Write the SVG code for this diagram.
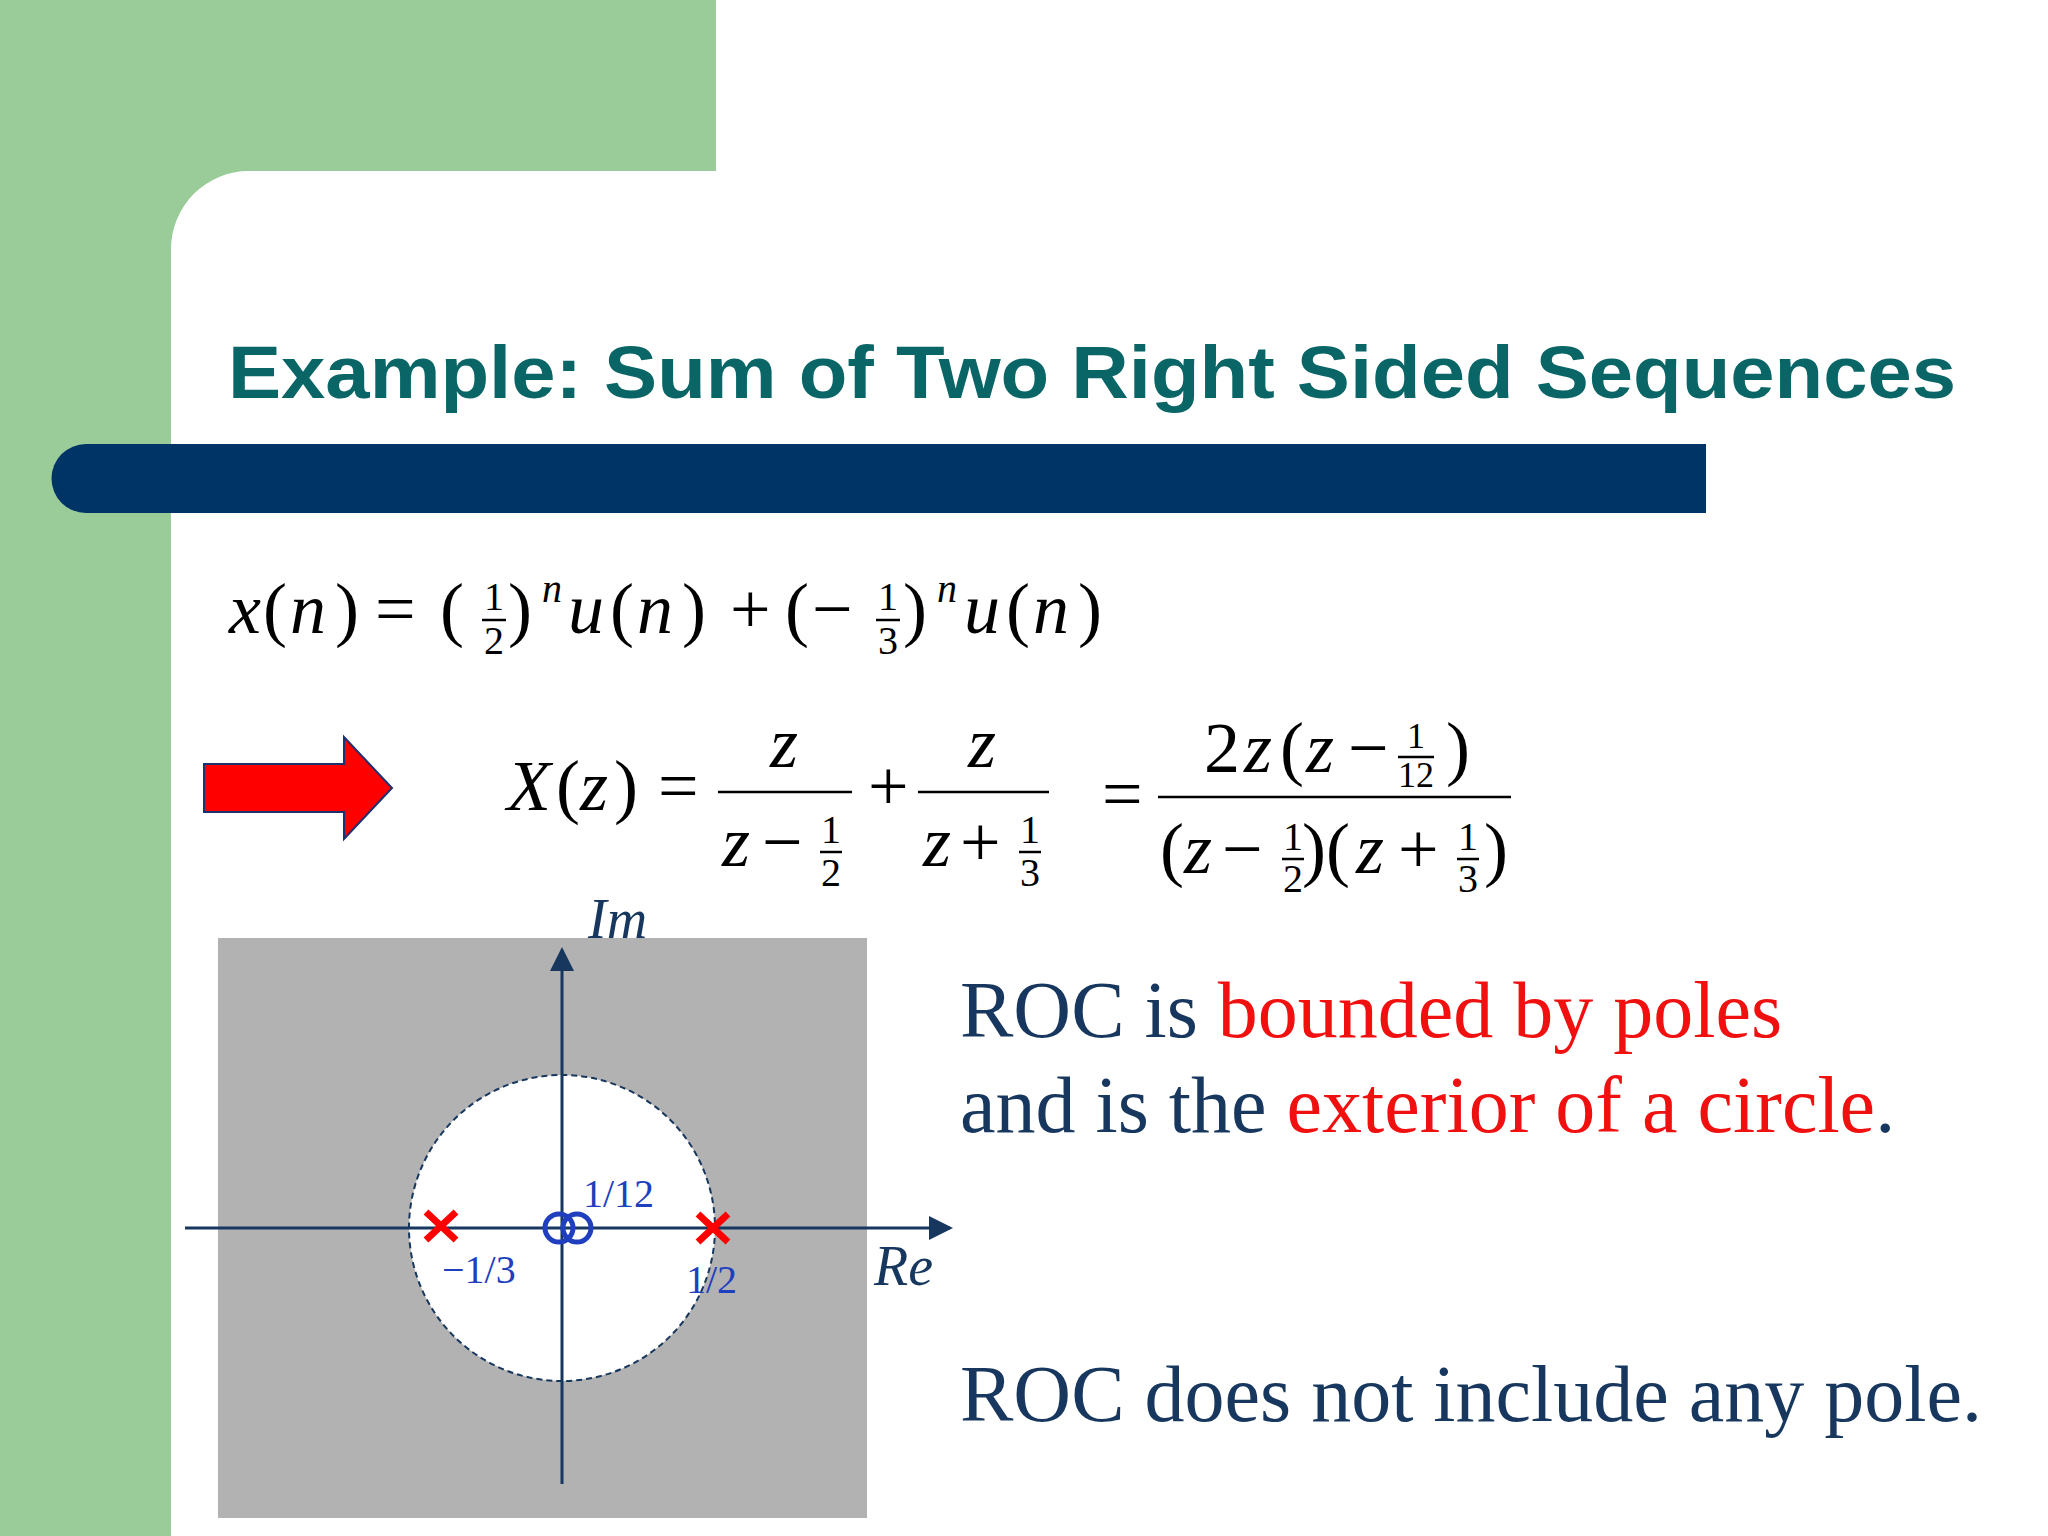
<svg xmlns="http://www.w3.org/2000/svg" width="2048" height="1536" viewBox="0 0 2048 1536">
<style>
.m{font-family:"Liberation Serif",serif;font-size:72px;fill:#000}
.i{font-style:italic}
.s{font-family:"Liberation Serif",serif;font-size:40px;fill:#000;text-anchor:middle}
.fb{stroke:#000;stroke-width:2.5}
.t{font-family:"Liberation Serif",serif;font-size:80px;fill:#17375e}
.r{fill:#f01010}
.lb{font-family:"Liberation Serif",serif;font-size:40px;fill:#1f3fbf}
.ax{stroke:#17375e;stroke-width:3;fill:none}
</style>
<defs>
<marker id="ah" markerWidth="8" markerHeight="8" refX="7" refY="4" orient="auto" markerUnits="strokeWidth"><path d="M0,0 L8,4 L0,8 z" fill="#17375e"/></marker>
</defs>
<rect width="2048" height="1536" fill="#ffffff"/>
<g id="background">
<rect x="0" y="0" width="716" height="171" fill="#99cc99"/>
<rect x="0" y="0" width="171" height="1536" fill="#99cc99"/>
<path d="M171,171 L249,171 A78,78 0 0 0 171,249 Z" fill="#99cc99"/>
<path d="M86,444 L1706,444 L1706,513 L86,513 A34.5,34.5 0 0 1 86,444 Z" fill="#003366"/>
</g>
<g id="title"><text x="228" y="398" font-family="Liberation Sans,Arial,sans-serif" font-weight="bold" font-size="74" fill="#0a6666" textLength="1728" lengthAdjust="spacingAndGlyphs">Example: Sum of Two Right Sided Sequences</text></g>
<g id="eq1">
<text class="m" y="633"><tspan class="i" x="229">x</tspan><tspan x="263">(</tspan><tspan class="i" x="290">n</tspan><tspan x="335">)</tspan><tspan x="375">=</tspan><tspan x="440">(</tspan><tspan x="508">)</tspan></text>
<text class="s" x="494" y="610">1</text><line class="fb" x1="482" y1="620" x2="506" y2="620"/><text class="s" x="494" y="654">2</text>
<text class="m i" x="542" y="602" style="font-size:40px">n</text>
<text class="m" y="633"><tspan class="i" x="568">u</tspan><tspan x="610">(</tspan><tspan class="i" x="637">n</tspan><tspan x="682">)</tspan><tspan x="730">+</tspan><tspan x="785">(</tspan><tspan x="812">−</tspan><tspan x="903">)</tspan></text>
<text class="s" x="888" y="610">1</text><line class="fb" x1="876" y1="620" x2="900" y2="620"/><text class="s" x="888" y="654">3</text>
<text class="m i" x="937" y="602" style="font-size:40px">n</text>
<text class="m" y="633"><tspan class="i" x="964">u</tspan><tspan x="1006">(</tspan><tspan class="i" x="1033">n</tspan><tspan x="1078">)</tspan></text>
</g>
<g id="arrow"><path d="M204,764 L344,764 L344,737 L392,788 L344,839 L344,812 L204,812 Z" fill="#ff0000" stroke="#1f3070" stroke-width="2"/></g>
<g id="eq2">
<text class="m" y="810"><tspan class="i" x="507">X</tspan><tspan x="556">(</tspan><tspan class="i" x="580">z</tspan><tspan x="614">)</tspan><tspan x="658">=</tspan></text>
<text class="m i" x="784" y="767" text-anchor="middle">z</text>
<line class="fb" x1="718" y1="792" x2="852" y2="792"/>
<text class="m" y="866"><tspan class="i" x="722">z</tspan><tspan x="762">−</tspan></text>
<text class="s" x="831" y="843">1</text><line class="fb" x1="820" y1="852" x2="842" y2="852"/><text class="s" x="831" y="886">2</text>
<text class="m" x="868" y="810">+</text>
<text class="m i" x="982" y="767" text-anchor="middle">z</text>
<line class="fb" x1="918" y1="792" x2="1049" y2="792"/>
<text class="m" y="866"><tspan class="i" x="923">z</tspan><tspan x="960">+</tspan></text>
<text class="s" x="1030" y="843">1</text><line class="fb" x1="1019" y1="852" x2="1041" y2="852"/><text class="s" x="1030" y="886">3</text>
<text class="m" x="1102" y="818">=</text>
<line class="fb" x1="1158" y1="797" x2="1511" y2="797"/>
<text class="m" y="772"><tspan x="1204">2</tspan><tspan class="i" x="1244">z</tspan><tspan x="1280">(</tspan><tspan class="i" x="1306">z</tspan><tspan x="1348">−</tspan><tspan x="1446">)</tspan></text>
<text class="s" x="1416" y="748" style="font-size:36px">1</text><line class="fb" x1="1398" y1="757" x2="1434" y2="757"/><text class="s" x="1416" y="787" style="font-size:36px">12</text>
<text class="m" y="873"><tspan x="1160">(</tspan><tspan class="i" x="1184">z</tspan><tspan x="1222">−</tspan><tspan x="1302">)(</tspan><tspan class="i" x="1356">z</tspan><tspan x="1398">+</tspan><tspan x="1484">)</tspan></text>
<text class="s" x="1293" y="850">1</text><line class="fb" x1="1282" y1="859" x2="1304" y2="859"/><text class="s" x="1293" y="892">2</text>
<text class="s" x="1468" y="850">1</text><line class="fb" x1="1457" y1="859" x2="1479" y2="859"/><text class="s" x="1468" y="892">3</text>
</g>
<g id="plot">
<rect x="218" y="938" width="649" height="580" fill="#b2b2b2"/>
<circle cx="562" cy="1228" r="153" fill="#ffffff" stroke="#17375e" stroke-width="2" stroke-dasharray="6,4"/>
</g>
<g id="connectors">
<line class="ax" x1="562" y1="1484" x2="562" y2="950" marker-end="url(#ah)"/>
<line class="ax" x1="185" y1="1228" x2="950" y2="1228" marker-end="url(#ah)"/>
</g>
<g id="marks">
<path d="M426,1212 L456,1240 M456,1212 L426,1240 M698,1214 L728,1242 M728,1214 L698,1242" stroke="#ff0000" stroke-width="7"/>
<circle cx="559" cy="1228" r="14" fill="none" stroke="#1f3fbf" stroke-width="5"/>
<circle cx="577" cy="1228" r="14" fill="none" stroke="#1f3fbf" stroke-width="5"/>
<text class="lb" x="583" y="1207">1/12</text>
<text class="lb" x="442" y="1283">−1/3</text>
<text class="lb" x="686" y="1293">1/2</text>
<text x="588" y="938" font-family="Liberation Serif,serif" font-style="italic" font-size="56" fill="#17375e">Im</text>
<text x="874" y="1285" font-family="Liberation Serif,serif" font-style="italic" font-size="56" fill="#17375e">Re</text>
</g>
<g id="notes">
<text class="t" x="960" y="1037">ROC is <tspan class="r">bounded by poles</tspan></text>
<text class="t" x="960" y="1132">and is the <tspan class="r">exterior of a circle</tspan>.</text>
<text class="t" x="960" y="1421">ROC does not include any pole.</text>
</g>
</svg>
